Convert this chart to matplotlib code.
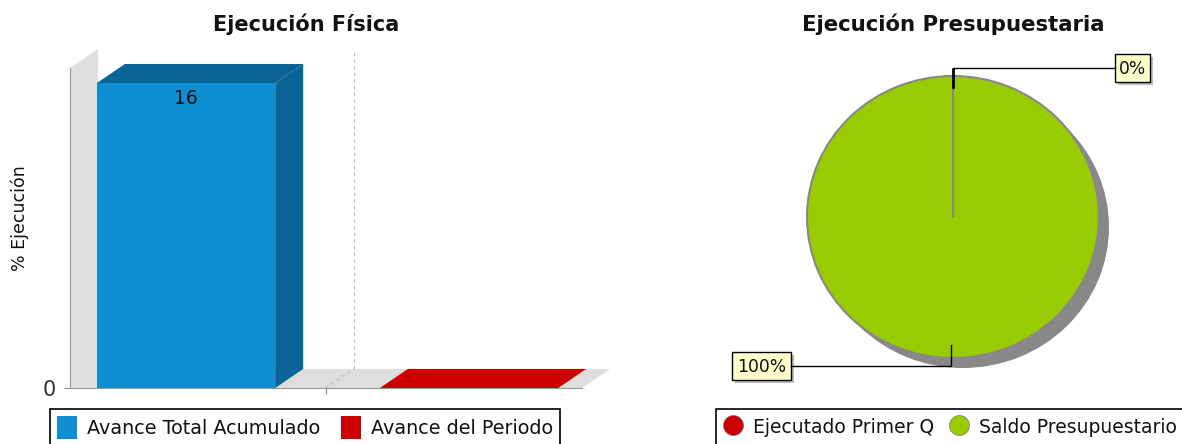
import matplotlib
matplotlib.use("Agg")
import matplotlib.pyplot as plt
from matplotlib.patches import Patch
from matplotlib.lines import Line2D

W, H = 1182, 444

# data
bar_labels = ["Avance Total Acumulado", "Avance del Periodo"]
bar_values = [16, 0]
pie_labels = ["Ejecutado Primer Q", "Saldo Presupuestario"]
pie_values = [0, 100]

BLUE = "#0f8fd2"
BLUE_DARK = "#0a6495"
RED = "#cc0000"
RED_DARK = "#990000"
GREEN = "#99cc00"
WALL = "#dedede"
TIP = "#ffffcc"
TEXT = "#111111"


def axes_px(fig, left, top, right, bottom):
    return fig.add_axes([left / W, 1 - bottom / H, (right - left) / W, (bottom - top) / H])


fig = plt.figure(figsize=(W / 100, H / 100), dpi=100)

# left chart, 3d looking bars
ax = axes_px(fig, 70, 68, 582, 388)
ax.set_xlim(-0.41, 1.399)
ax.set_ylim(0, 16.79)
dx = 0.099
dy = 1.0
bar_w = 0.63
xs = [0, 1]
x0, x1 = ax.get_xlim()
top = ax.get_ylim()[1]
mid = 0.493

ax.fill([x0, x0 + dx, x0 + dx, x0], [0, dy, top + dy, top], color=WALL, lw=0, clip_on=False, zorder=1)
ax.fill([x0, x1, x1 + dx, x0 + dx], [0, 0, dy, dy], color=WALL, lw=0, clip_on=False, zorder=1)
ax.plot([mid + dx, mid + dx], [dy, top + dy], color="#bbbbbb", lw=0.8, ls=(0, (3, 3)), clip_on=False, zorder=1.5)
ax.plot([mid, mid + dx], [0, dy], color="#bbbbbb", lw=0.8, ls=(0, (3, 3)), clip_on=False, zorder=1.5)

colors = [BLUE, RED]
darks = [BLUE_DARK, RED_DARK]
for x, v, c, d in zip(xs, bar_values, colors, darks):
    l, r = x - bar_w / 2, x + bar_w / 2
    ax.fill([r, r + dx, r + dx, r], [0, dy, v + dy, v], color=d, lw=0, clip_on=False, zorder=2)
    top_col = d if v > 0 else c
    ax.fill([l, l + dx, r + dx, r], [v, v + dy, v + dy, v], color=top_col, lw=0, clip_on=False, zorder=2)
ax.bar(xs, bar_values, bar_w, color=colors, zorder=3)
ax.text(xs[0], bar_values[0] - 0.8, str(bar_values[0]), ha="center", va="center", fontsize=13.5, color=TEXT, zorder=4)

for s in ["top", "right"]:
    ax.spines[s].set_visible(False)
for s in ["left", "bottom"]:
    ax.spines[s].set_color("#999999")
    ax.spines[s].set_zorder(5)
ax.patch.set_alpha(0)
ax.set_xticks([mid])
ax.set_xticklabels([])
ax.set_yticks([0])
ax.tick_params(axis="both", color="#888888", length=4, width=0.8)
ax.tick_params(axis="y", labelsize=15, labelcolor="#333333", pad=6)

# right chart, pie with shadow
ax2 = axes_px(fig, 807, 76, 1099, 358)
ax2.pie(pie_values, colors=["#888888", "#888888"], startangle=90, counterclock=False, center=(0.0685, -0.071),
        wedgeprops={"linewidth": 0})
wedges, _ = ax2.pie(pie_values, colors=[RED, GREEN], startangle=90, counterclock=False,
                    wedgeprops={"linewidth": 1.5, "edgecolor": "#888888"})
wedges[0].set_zorder(wedges[1].get_zorder() + 1)
ax2.set_aspect("auto")
ax2.set_xlim(-1, 1)
ax2.set_ylim(-1, 1)
ax2.set_axis_off()

# overlay in pixel coordinates for titles, leaders and labels
ov = fig.add_axes([0, 0, 1, 1], zorder=10)
ov.set_xlim(0, W)
ov.set_ylim(H, 0)
ov.set_axis_off()
ov.patch.set_alpha(0)

ov.text(306, 24, "Ejecución Física", ha="center", va="center", fontsize=15, fontweight="bold", color=TEXT)
ov.text(953, 24, "Ejecución Presupuestaria", ha="center", va="center", fontsize=15.3, fontweight="bold", color=TEXT)
ov.text(20, 218, "% Ejecución", rotation=90, ha="center", va="center", fontsize=12.5, color=TEXT)

ov.plot([953, 953, 1115], [88, 68, 68], color="black", lw=1.0, solid_joinstyle="miter")
ov.plot([953, 953], [88, 68], color="black", lw=2.0, solid_capstyle="butt")
ov.plot([791, 951, 951], [366, 366, 345], color="black", lw=1.0, solid_joinstyle="miter")


def tip(left, top, right, bottom, s):
    ov.fill([left + 3, right + 3, right + 3, left + 3], [top + 3, top + 3, bottom + 3, bottom + 3], color="#bbbbbb", lw=0)
    ov.fill([left, right, right, left], [top, top, bottom, bottom], facecolor=TIP, edgecolor="black", lw=1.0)
    ov.text((left + right) / 2, (top + bottom) / 2 + 0.5, s, ha="center", va="center", fontsize=12.3, color=TEXT)


tip(1115, 54, 1150, 82, "%d%%" % pie_values[0])
tip(732, 352, 791, 380, "%d%%" % pie_values[1])

# legends, the frames run off the bottom of the picture like the original
bar_handles = [Patch(facecolor=c, edgecolor="none") for c in colors]
leg1 = fig.legend(bar_handles, bar_labels, ncol=2, loc="upper left", bbox_to_anchor=(50 / W, 1 - 409 / H),
                  borderaxespad=0, fancybox=False, framealpha=1, edgecolor="black", fontsize=13.8,
                  handlelength=1.05, handleheight=1.45, handletextpad=0.52, columnspacing=1.05, borderpad=0.37)
leg1.get_frame().set_linewidth(1.2)
for t in leg1.get_texts():
    t.set_color(TEXT)

pie_handles = [Line2D([], [], ls="none", marker="o", ms=14.4, mfc=c, mec="#777777", mew=0.5) for c in [RED, GREEN]]
leg2 = fig.legend(pie_handles, pie_labels, ncol=2, loc="upper left", bbox_to_anchor=(716 / W, 1 - 409 / H),
                  borderaxespad=0, fancybox=False, framealpha=1, edgecolor="black", fontsize=13.5,
                  handlelength=1.07, handleheight=1.45, handletextpad=0.52, columnspacing=0.8, borderpad=0.37)
leg2.get_frame().set_linewidth(1.2)
for t in leg2.get_texts():
    t.set_color(TEXT)

fig.savefig("out.png", dpi=100)
